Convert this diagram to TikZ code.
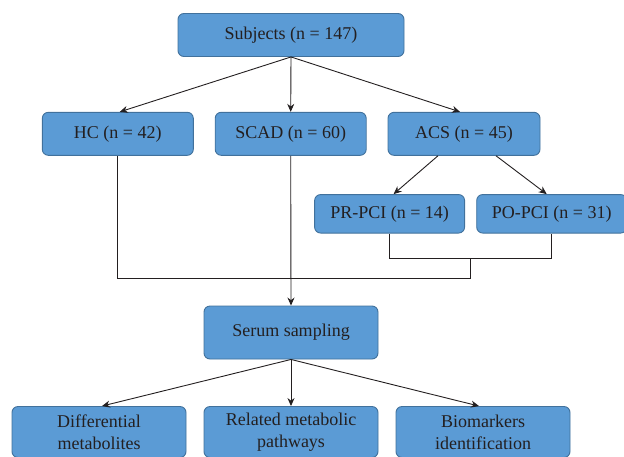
\documentclass[tikz,border=0pt]{standalone}
\usepackage{fontspec}
\setmainfont{Liberation Serif}
\usetikzlibrary{arrows.meta}
\definecolor{boxblue}{HTML}{5B9BD5}
\definecolor{boxline}{HTML}{41719C}
\definecolor{inkgray}{HTML}{231F20}
\tikzset{
  box/.style={draw=boxline, fill=boxblue, rounded corners=6pt, line width=0.9pt,
    text=inkgray, align=center, inner sep=0pt,
    font=\fontsize{18}{22}\selectfont},
  link/.style={draw=inkgray, line width=0.9pt},
  arrow/.style={link, -{Stealth[length=8pt,width=7pt]}}
}
\begin{document}
\begin{tikzpicture}[x=1pt,y=-1pt]
        \useasboundingbox (0,0) rectangle (624,456);
        \node[box, minimum width=226pt, minimum height=43pt] (subj) at (291,35) {Subjects (n = 147)};
        \node[box, minimum width=151pt, minimum height=43pt] (hc) at (117.8,133.8) {HC (n = 42)};
        \node[box, minimum width=151pt, minimum height=43pt] (scad) at (290.7,133.8) {SCAD (n = 60)};
        \node[box, minimum width=152pt, minimum height=43pt] (acs) at (464,133.8) {ACS (n = 45)};
        \node[box, minimum width=150pt, minimum height=38.5pt] (prpci) at (389.6,213.8) {PR-PCI (n = 14)};
        \node[box, minimum width=150pt, minimum height=38.5pt] (popci) at (551.7,213.8) {PO-PCI (n = 31)};
        \node[box, minimum width=174pt, minimum height=53pt] (serum) at (291,332.5) {Serum sampling};
        \node[box, minimum width=174pt, minimum height=51pt] (diff) at (99,432) {Differential\\metabolites};
        \node[box, minimum width=174pt, minimum height=51pt] (rel) at (291,432) {Related metabolic\\pathways};
        \node[box, minimum width=174pt, minimum height=51pt] (bio) at (483,432) {Biomarkers\\identification};
        \coordinate (pcijoin) at (470.7,258.7);
        \coordinate (alljoin) at (470.7,278);
        % subjects into groups
        \draw[arrow] (subj.south) -- ([xshift=2pt]hc.north);
        \draw[arrow] (subj.south) -- (scad.north);
        \draw[arrow] (subj.south) -- ([xshift=-4pt]acs.north);
        \draw[arrow] ([xshift=-26pt]acs.south) -- ([xshift=4pt]prpci.north);
        \draw[arrow] ([xshift=32pt]acs.south) -- ([xshift=-5pt]popci.north);
        % groups merge into sampling
        \draw[link] (prpci.south) |- (pcijoin) -| (popci.south);
        \draw[link] (pcijoin) -- (alljoin) -| (hc.south);
        \draw[arrow] (scad.south) -- (serum.north);
        % analysis
        \draw[arrow] (serum.south) -- ([xshift=3pt]diff.north);
        \draw[arrow] (serum.south) -- (rel.north);
        \draw[arrow] (serum.south) -- ([xshift=-4pt]bio.north);
\end{tikzpicture}
\end{document}
